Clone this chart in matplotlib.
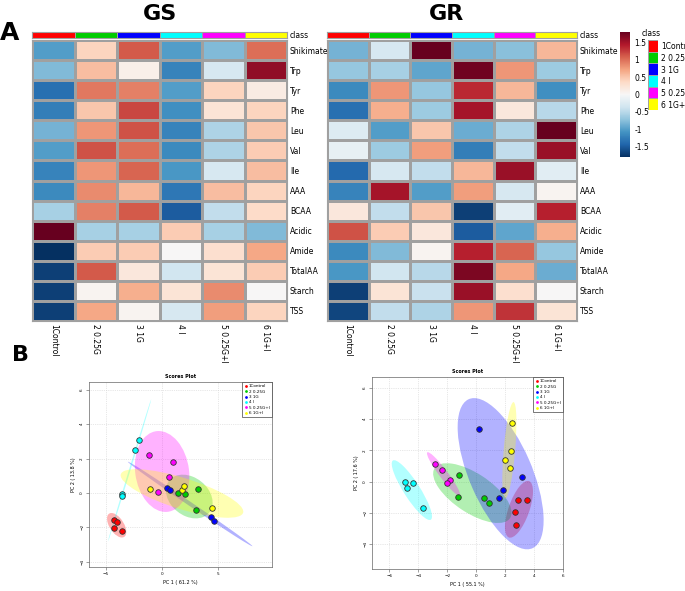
import numpy as np
import matplotlib.pyplot as plt
from matplotlib.patches import Ellipse
from matplotlib.colors import ListedColormap
from matplotlib.lines import Line2D

# --- data -------------------------------------------------------------
groups = ["1Control", "2 0.25G", "3 1G", "4 I", "5 0.25G+I", "6 1G+I"]
class_colors = ["#ff0000", "#00cc00", "#0000ff", "#00ffff", "#ff00ff", "#ffff00"]
features = ["Shikimate", "Trp", "Tyr", "Phe", "Leu", "Val", "Ile", "AAA",
            "BCAA", "Acidic", "Amide", "TotalAA", "Starch", "TSS"]

gs_heat = [
    [-1.00, 0.40, 1.10, -1.00, -0.80, 1.00],
    [-0.80, 0.55, 0.10, -1.20, -0.30, 1.60],
    [-1.35, 0.95, 0.90, -1.00, 0.40, 0.15],
    [-1.25, 0.50, 1.20, -1.10, 0.25, 0.40],
    [-0.85, 0.80, 1.15, -1.20, -0.55, 0.50],
    [-1.00, 1.15, 1.00, -1.15, -0.55, 0.45],
    [-1.20, 0.80, 1.05, -1.05, -0.30, 0.55],
    [-1.15, 0.85, 0.60, -1.30, 0.55, 0.40],
    [-0.60, 0.90, 1.10, -1.50, -0.45, 0.35],
    [1.80, -0.60, -0.60, 0.45, -0.60, -0.80],
    [-1.80, 0.45, 0.45, 0.00, 0.30, 0.70],
    [-1.70, 1.10, 0.20, -0.35, 0.25, 0.45],
    [-1.70, 0.05, 0.65, 0.25, 0.85, 0.00],
    [-1.70, 0.70, 0.05, -0.30, 0.75, 0.40],
]
gr_heat = [
    [-0.85, -0.30, 1.80, -0.85, -0.75, 0.60],
    [-0.70, -0.60, -0.95, 1.75, 0.80, -0.65],
    [-1.15, 0.80, -0.70, 1.35, 0.60, -1.10],
    [-1.35, 0.65, -0.65, 1.50, 0.20, -0.50],
    [-0.25, -1.00, 0.50, -0.90, -0.55, 1.80],
    [-0.15, -0.65, 0.75, -1.25, -0.45, 1.55],
    [-1.40, -0.30, -0.45, 0.60, 1.55, -0.20],
    [-1.20, 1.50, -1.00, 0.75, -0.30, 0.05],
    [0.20, -0.45, 0.50, -1.70, -0.20, 1.40],
    [1.15, 0.45, 0.20, -1.50, -0.95, 0.65],
    [-1.15, -0.80, 0.05, 1.40, 1.05, -0.70],
    [-1.05, -0.35, -0.50, 1.70, 0.70, -0.90],
    [-1.70, 0.25, -0.40, 1.55, 0.30, 0.00],
    [-1.65, -0.45, -0.55, 0.80, 1.30, 0.25],
]

# PCA scores, one (x, y) list per group
gs_pc1 = [[-4.30, -3.98, -4.30, -3.56], [1.42, 2.05, 3.23, 3.03],
          [0.42, 0.68, 4.33, 4.60], [-2.05, -2.37, -3.56, -3.56],
          [-1.19, 0.98, 0.65, -0.39], [-1.04, 1.81, 1.93, 4.42]]
gs_pc2 = [[-1.57, -1.69, -2.06, -2.18], [0.00, -0.08, 0.22, -0.96],
          [0.29, 0.16, -1.37, -1.63], [3.06, 2.47, -0.08, -0.20],
          [2.22, 1.80, 0.92, 0.06], [0.22, 0.16, 0.39, -0.88]]
gr_pc1 = [[2.87, 3.54, 2.69, 2.73], [-1.16, -1.27, 0.51, 0.86],
          [0.21, 3.17, 1.83, 1.55], [-4.93, -4.40, -4.79, -3.66],
          [-2.87, -2.36, -1.81, -1.99], [2.45, 2.41, 2.01, 2.31]]
gr_pc2 = [[-1.20, -1.20, -1.94, -2.76], [0.41, -0.98, -1.03, -1.35],
          [3.35, 0.30, -0.56, -1.07], [-0.02, -0.06, -0.41, -1.69],
          [1.15, 0.77, 0.09, -0.06], [3.78, 1.97, 1.37, 0.90]]

cb_ticks = [1.5, 1, 0.5, 0, -0.5, -1, -1.5]
cb_labels = ["1.5", "1", "0.5", "0", "-0.5", "-1", "-1.5"]

# --- figure -----------------------------------------------------------
W, H = 685, 591
fig = plt.figure(figsize=(6.85, 5.91), dpi=100)
cmap = plt.get_cmap("RdBu_r")
VMAX = 1.8


def px_axes(x0, y0, x1, y1):
    # axes placed by pixel box (top-left origin)
    return fig.add_axes([x0 / W, 1 - y1 / H, (x1 - x0) / W, (y1 - y0) / H])


def draw_heatmap(x0, x1, values, title, title_x):
    bar = px_axes(x0, 32, x1, 38)
    bar.pcolormesh(np.arange(6)[None, :], cmap=ListedColormap(class_colors),
                   edgecolors="#a0a0a0", linewidth=0.6)
    bar.set_xticks([])
    bar.yaxis.tick_right()
    bar.set_yticks([0.5])
    bar.set_yticklabels(["class"], fontsize=5.5)
    bar.tick_params(length=0, pad=2)
    for s in bar.spines.values():
        s.set_color("#a0a0a0")

    ax = px_axes(x0, 40, x1, 321)
    mesh = ax.pcolormesh(np.array(values), cmap=cmap, vmin=-VMAX, vmax=VMAX,
                         edgecolors="#a0a0a0", linewidth=0.8)
    ax.set_xlim(0, 6)
    ax.set_ylim(14, 0)
    ax.yaxis.tick_right()
    ax.set_yticks(np.arange(14) + 0.5)
    ax.set_yticklabels(features, fontsize=5.5)
    ax.set_xticks(np.arange(6) + 0.5)
    ax.set_xticklabels(groups, fontsize=5.5, rotation=270)
    ax.tick_params(length=0, pad=2)
    for s in ax.spines.values():
        s.set_color("#a0a0a0")
    fig.text(title_x / W, 1 - 14 / H, title, fontsize=16, fontweight="bold",
             ha="center", va="center")
    return mesh


mesh = draw_heatmap(32, 287, gs_heat, "GS", 160)
draw_heatmap(327, 577, gr_heat, "GR", 447)

# colour key
cax = px_axes(620, 32, 630, 157)
cb = fig.colorbar(mesh, cax=cax)
cb.set_ticks(cb_ticks)
cb.set_ticklabels(cb_labels)
cb.ax.tick_params(length=0, labelsize=5.5, pad=3)
cb.outline.set_visible(False)

# class key (labels run off the right edge, as in the source figure)
kax = px_axes(648, 40, 658, 110)
kax.pcolormesh(np.arange(6)[:, None], cmap=ListedColormap(class_colors),
               edgecolors="#a0a0a0", linewidth=0.6)
kax.set_ylim(6, 0)
kax.set_xticks([])
kax.yaxis.tick_right()
kax.set_yticks(np.arange(6) + 0.5)
kax.set_yticklabels(groups, fontsize=5.5)
kax.tick_params(length=0, pad=2)
for s in kax.spines.values():
    s.set_visible(False)
fig.text(642 / W, 1 - 34 / H, "class", fontsize=5.5, va="center")

fig.text(10 / W, 1 - 33 / H, "A", fontsize=18, fontweight="bold", ha="center", va="center")
fig.text(20 / W, 1 - 355 / H, "B", fontsize=16, fontweight="bold", ha="center", va="center")


def conf_ellipse(ax, x, y, color):
    x, y = np.asarray(x), np.asarray(y)
    vals, vecs = np.linalg.eigh(np.cov(x, y))
    order = vals.argsort()[::-1]
    vals, vecs = vals[order], vecs[:, order]
    angle = np.degrees(np.arctan2(vecs[1, 0], vecs[0, 0]))
    k = np.sqrt(5.991)  # 95% region
    ax.add_patch(Ellipse((x.mean(), y.mean()), 2 * k * np.sqrt(vals[0]),
                         2 * k * np.sqrt(max(vals[1], 1e-4)), angle=angle,
                         facecolor=color, alpha=0.3, edgecolor="none"))


def draw_scores(box, pc1, pc2, xlim, ylim, xticks, yticks, xlabel, ylabel):
    ax = px_axes(*box)
    for x, y, c in zip(pc1, pc2, class_colors):
        conf_ellipse(ax, x, y, c)
    for x, y, c in zip(pc1, pc2, class_colors):
        ax.scatter(x, y, s=16, color=c, edgecolors="#333333", linewidths=0.6, zorder=3)
    ax.set_xlim(*xlim)
    ax.set_ylim(*ylim)
    ax.set_xticks(xticks)
    ax.set_yticks(yticks)
    ax.tick_params(labelsize=3, length=2, width=0.4, pad=1.5, color="#555555")
    plt.setp(ax.get_yticklabels(), rotation=90, va="center")
    ax.grid(True, color="#d0d0d0", linestyle=":", linewidth=0.5)
    ax.set_axisbelow(True)
    for s in ax.spines.values():
        s.set_color("#666666")
        s.set_linewidth(0.5)
    ax.set_xlabel(xlabel, fontsize=3.5, labelpad=3)
    ax.set_ylabel(ylabel, fontsize=3.5, labelpad=3)
    ax.set_title("Scores Plot", fontsize=3.5, fontweight="bold", pad=3)
    handles = [Line2D([], [], marker="o", linestyle="", markersize=2,
                      markerfacecolor=c, markeredgecolor="none") for c in class_colors]
    leg = ax.legend(handles, groups, loc="upper right", fontsize=3,
                    fancybox=False, framealpha=1, borderaxespad=0.1,
                    handletextpad=0.2, labelspacing=0.35, borderpad=0.4,
                    handlelength=1)
    leg.get_frame().set_edgecolor("#444444")
    leg.get_frame().set_linewidth(0.5)
    return ax


draw_scores((89, 382, 272, 567), gs_pc1, gs_pc2, (-6.5, 9.8), (-4.3, 6.45),
            [-5, 0, 5], [-4, -2, 0, 2, 4, 6], "PC 1 ( 61.2 %)", "PC 2 ( 13.8 %)")
draw_scores((372, 377, 563, 569), gr_pc1, gr_pc2, (-7.2, 6.0), (-5.6, 6.7),
            [-6, -4, -2, 0, 2, 4, 6], [-4, -2, 0, 2, 4, 6],
            "PC 1 ( 55.1 %)", "PC 2 ( 17.6 %)")

fig.savefig("out.png", dpi=100)
